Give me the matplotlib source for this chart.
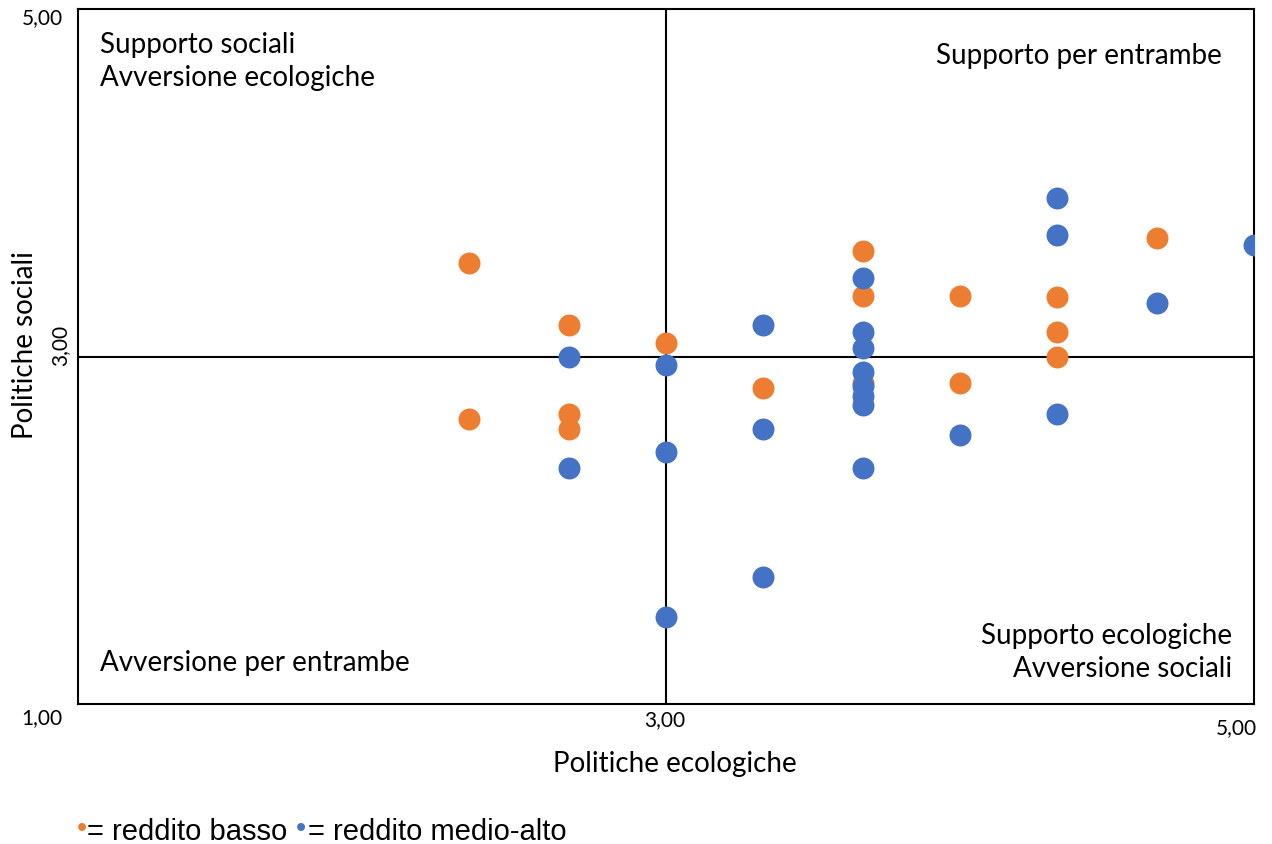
import matplotlib.pyplot as plt

# data (x = Politiche ecologiche, y = Politiche sociali)
basso_x = [2.33, 2.33, 2.67, 2.67, 2.67, 3.00, 3.33, 3.67, 3.67, 3.67,
           4.00, 4.00, 4.33, 4.33, 4.33, 4.67]
basso_y = [3.54, 2.64, 3.18, 2.67, 2.58, 3.08, 2.82, 3.61, 3.35, 2.85,
           3.35, 2.85, 3.34, 3.14, 3.00, 3.68]

medio_x = [2.67, 2.67, 3.00, 3.00, 3.00, 3.33, 3.33, 3.33, 3.67, 3.67,
           3.67, 3.67, 3.67, 3.67, 3.67, 3.67, 4.00, 4.33, 4.33, 4.33,
           4.67, 5.00]
medio_y = [3.00, 2.36, 2.95, 2.45, 1.50, 3.18, 2.58, 1.73, 3.45, 3.14,
           3.05, 2.91, 2.83, 2.77, 2.72, 2.36, 2.55, 3.91, 3.70, 2.67,
           3.31, 3.64]

orange = '#ED7D31'
blue = '#4472C4'
lab_font = ['Lato', 'DejaVu Sans']
W, H = 1272, 845


def px(x, y):
    # figure fraction from pixel position (top-left origin)
    return x / W, 1 - y / H


fig = plt.figure(figsize=(12.72, 8.45), dpi=100)
ax = fig.add_axes([78/W, 1 - 705/H, (1254-78)/W, (705-10)/H])

ax.scatter(basso_x, basso_y, s=250, color=orange, zorder=3, linewidths=0)
ax.scatter(medio_x, medio_y, s=250, color=blue, zorder=3, linewidths=0)

ax.axhline(3, color='black', lw=1.5, zorder=2)
ax.axvline(3, color='black', lw=1.5, zorder=2)

ax.set_xlim(1, 5)
ax.set_ylim(1, 5)
ax.set_xticks([])
ax.set_yticks([])
for sp in ax.spines.values():
    sp.set_linewidth(1.5)

# tick labels
tk = dict(fontsize=15, family=lab_font, ha='center', va='center')
fig.text(*px(42, 718), '1,00', **tk)
fig.text(*px(665, 720), '3,00', **tk)
fig.text(*px(1236, 728), '5,00', **tk)
fig.text(*px(42, 18), '5,00', **tk)
fig.text(*px(60, 345), '3,00', rotation=90, **tk)

# axis titles
fig.text(*px(675, 764), 'Politiche ecologiche', ha='center', va='center',
         fontsize=20, family=lab_font)
fig.text(*px(25, 345), 'Politiche sociali', ha='center', va='center',
         rotation=90, fontsize=20, family=lab_font)

# quadrant labels
q = dict(fontsize=20, family=lab_font, linespacing=1.3, va='center')
ax.text(1.075, 4.704, 'Supporto sociali\nAvversione ecologiche', ha='left', **q)
ax.text(4.891, 4.735, 'Supporto per entrambe', ha='right', **q)
ax.text(1.075, 1.242, 'Avversione per entrambe', ha='left', **q)
ax.text(4.925, 1.302, 'Supporto ecologiche\nAvversione sociali', ha='right',
        multialignment='right', **q)

# legend line under the chart
lg = dict(fontsize=21, family=['Liberation Sans', 'DejaVu Sans'], va='center', ha='left')
fig.text(*px(77, 829), '\u2022', color=orange, **lg)
fig.text(*px(87, 832), '= reddito basso', **lg)
fig.text(*px(296, 829), '\u2022', color=blue, **lg)
fig.text(*px(308, 832), '= reddito medio-alto', **lg)

fig.savefig('out.png', dpi=100)
